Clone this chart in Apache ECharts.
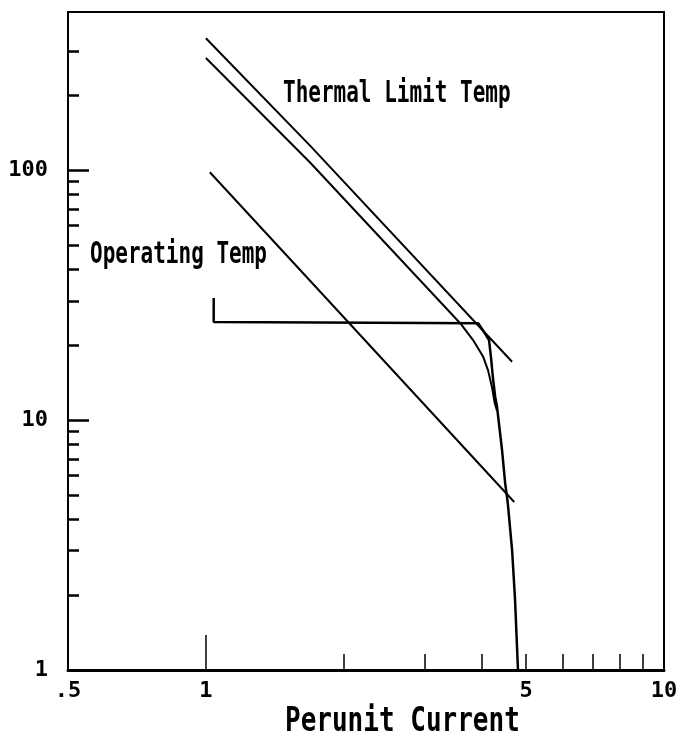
<!DOCTYPE html>
<html>
<head>
<meta charset="utf-8">
<title>Perunit Current</title>
<script src="https://cdn.jsdelivr.net/npm/echarts@6.0.0/dist/echarts.min.js"></script>
<style>
  html, body { margin: 0; padding: 0; background: #fff; }
  #chart { width: 690px; height: 742px; }
</style>
</head>
<body>
<div id="chart"></div>
<script>
// values, [perunit current, y]
const thermalLimitUpper = [[1.0, 337], [1.69, 125], [4.66, 17.1]];
const thermalLimitLower = [[1.0, 281], [1.69, 107], [3.59, 24.4], [3.83, 20.9], [4.03, 17.9],
  [4.13, 15.8], [4.21, 13.6], [4.27, 11.7], [4.32, 10.9]];
const operatingTemp = [[1.02, 98], [1.69, 36], [4.71, 4.7]];
const tripCurve = [[1.04, 30.8], [1.04, 24.7], [3.93, 24.4], [4.06, 22.3], [4.15, 20.9],
  [4.19, 17.9], [4.23, 14.9], [4.28, 12.4], [4.32, 11.3], [4.43, 7.59], [4.50, 5.60],
  [4.56, 4.66], [4.66, 3.02], [4.73, 1.91], [4.80, 1]];

const xLabelValues = [0.5, 1, 5, 10];
const xMajorTicks = [1];
const xMinorTicks = [2, 3, 4, 5, 6, 7, 8, 9];
const yLabelValues = [1, 10, 100];
const yMajorTicks = [1, 10, 100];
const yMinorTicks = [2, 3, 4, 5, 6, 7, 8, 9, 20, 30, 40, 50, 60, 70, 80, 90, 200, 300];

const FONT = '"DejaVu Sans Mono", "Liberation Mono", monospace';

let myChart = echarts.init(document.getElementById("chart"));

function lineSeries(name, data, width) {
  return {
    name: name,
    type: "line",
    data: data,
    showSymbol: false,
    symbol: "none",
    smooth: false,
    silent: true,
    lineStyle: { color: "#000", width: width }
  };
}

function annotation(text, x, y, size, sy) {
  return {
    type: "text",
    x: x,
    y: y,
    scaleY: sy,
    style: {
      text: text,
      font: "bold " + size + "px " + FONT,
      fill: "#000",
      textAlign: "left",
      textVerticalAlign: "middle"
    }
  };
}

myChart.setOption({
  animation: false,
  backgroundColor: "#fff",
  grid: {
    left: 68,
    right: 26,
    top: 12,
    bottom: 72,
    show: true,
    borderColor: "#000",
    borderWidth: 2,
    outerBoundsMode: "none"
  },
  xAxis: [
    {
      type: "log",
      position: "bottom",
      min: 0.5,
      max: 10,
      axisLine: { show: true, lineStyle: { color: "#000", width: 3 } },
      axisTick: { show: true, inside: true, length: 35, customValues: xMajorTicks,
        lineStyle: { color: "#000", width: 1.5 } },
      axisLabel: {
        show: true,
        customValues: xLabelValues,
        margin: 10,
        color: "#000",
        fontFamily: FONT,
        fontWeight: "bold",
        fontSize: 22,
        formatter: v => String(Math.round(v * 10) / 10).replace(/^0\./, ".")
      },
      splitLine: { show: false },
      minorTick: { show: false }
    },
    {
      type: "log",
      position: "bottom",
      min: 0.5,
      max: 10,
      axisLine: { show: false },
      axisTick: { show: true, inside: true, length: 16, customValues: xMinorTicks,
        lineStyle: { color: "#000", width: 1.5 } },
      axisLabel: { show: false },
      splitLine: { show: false }
    }
  ],
  yAxis: [
    {
      type: "log",
      position: "left",
      min: 1,
      max: 429,
      axisLine: { show: true, lineStyle: { color: "#000", width: 1.5 } },
      axisTick: { show: true, inside: true, length: 21, customValues: yMajorTicks,
        lineStyle: { color: "#000", width: 2.5 } },
      axisLabel: {
        show: true,
        customValues: yLabelValues,
        margin: 20,
        color: "#000",
        fontFamily: FONT,
        fontWeight: "bold",
        fontSize: 22,
        formatter: v => String(Math.round(v))
      },
      splitLine: { show: false }
    },
    {
      type: "log",
      position: "left",
      min: 1,
      max: 429,
      axisLine: { show: false },
      axisTick: { show: true, inside: true, length: 11, customValues: yMinorTicks,
        lineStyle: { color: "#000", width: 2.5 } },
      axisLabel: { show: false },
      splitLine: { show: false }
    }
  ],
  series: [
    lineSeries("Thermal Limit Temp", thermalLimitUpper, 2),
    lineSeries("Thermal Limit Temp 2", thermalLimitLower, 2),
    lineSeries("Operating Temp", operatingTemp, 2),
    lineSeries("Trip", tripCurve, 2.5)
  ],
  graphic: [
    annotation("Thermal Limit Temp", 283, 94, 21, 1.45),
    annotation("Operating Temp", 90, 255, 21, 1.45),
    annotation("Perunit Current", 285, 722, 26, 1.3)
  ]
});
</script>
</body>
</html>
